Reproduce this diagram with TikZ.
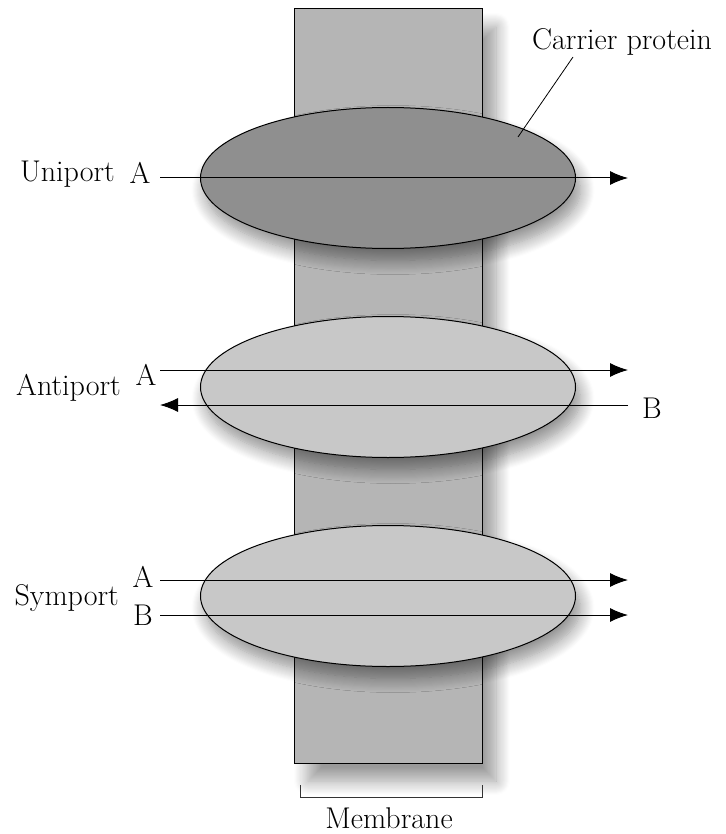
\documentclass[tikz,border=0pt]{standalone}
\usepackage{tikz}
\usetikzlibrary{positioning}
\usetikzlibrary{shapes.geometric}
\usetikzlibrary{arrows.meta, shadows.blur}

\definecolor{membranegray}{RGB}{181,181,181}
\definecolor{unigray}{RGB}{143,143,143}
\definecolor{carriergray}{RGB}{200,200,200}

\begin{document}
\begin{tikzpicture}[x=1pt,y=-1pt,
  membrane/.style={rectangle,draw=black,fill=membranegray,line width=1pt,inner sep=0pt,
    minimum width=188pt,minimum height=754pt,
    blur shadow={shadow xshift=14pt,shadow yshift=-18pt,shadow blur radius=14pt,shadow blur steps=14,shadow opacity=40}},
  carrier/.style={ellipse,draw=black,line width=1pt,inner sep=0pt,
    minimum width=375pt,minimum height=141pt,
    blur shadow={shadow xshift=5pt,shadow yshift=-12pt,shadow blur radius=14pt,shadow blur steps=14,shadow opacity=45}},
  flow/.style={line width=1pt,-{Latex[length=18pt,width=14pt]}},
  lbl/.style={font=\fontsize{30}{34}\selectfont,inner sep=0pt,text=black}]
\useasboundingbox (0,0) rectangle (725,834);

\node[membrane] (mem) at (388,386) {};

\node[carrier,fill=unigray] (uni) at (388,178) {};
\node[carrier,fill=carriergray] (anti) at (388,387) {};
\node[carrier,fill=carriergray] (sym) at (388,596) {};

% uniport
\node[lbl,anchor=base east] (uniL) at (115,182) {Uniport};
\node[lbl,anchor=base] (uniA) at (140,184) {A};
\coordinate (uniIn) at (160,178);
\coordinate (uniOut) at (628,178);
\draw[flow] (uniIn) -- (uniOut);

% antiport
\node[lbl,anchor=base east] (antiL) at (121,395) {Antiport};
\node[lbl,anchor=base] (antiA) at (146,385) {A};
\node[lbl,anchor=base] (antiB) at (652,418) {B};
\coordinate (antiAIn) at (160,370);
\coordinate (antiAOut) at (628,370);
\coordinate (antiBIn) at (628,405);
\coordinate (antiBOut) at (160,405);
\draw[flow] (antiAIn) -- (antiAOut);
\draw[flow] (antiBIn) -- (antiBOut);

% symport
\node[lbl,anchor=base east] (symL) at (119,605) {Symport};
\node[lbl,anchor=base] (symA) at (143,587) {A};
\node[lbl,anchor=base] (symB) at (143,625) {B};
\coordinate (symAIn) at (160,580);
\coordinate (symAOut) at (628,580);
\coordinate (symBIn) at (160,615);
\coordinate (symBOut) at (628,615);
\draw[flow] (symAIn) -- (symAOut);
\draw[flow] (symBIn) -- (symBOut);

% carrier protein pointer
\node[lbl,anchor=base] (cp) at (622,50) {Carrier protein};
\coordinate (cpFoot) at (573,57);
\coordinate (cpTip) at (518,137);
\draw[line width=0.8pt] (cpFoot) -- (cpTip);

% membrane bracket
\coordinate (brL) at (300,785);
\coordinate (brR) at (482,785);
\draw[line width=0.8pt,black!80] (brL) -- ++(0,12) -| (brR);
\node[lbl,anchor=base] (memL) at (389,828) {Membrane};

\end{tikzpicture}
\end{document}
